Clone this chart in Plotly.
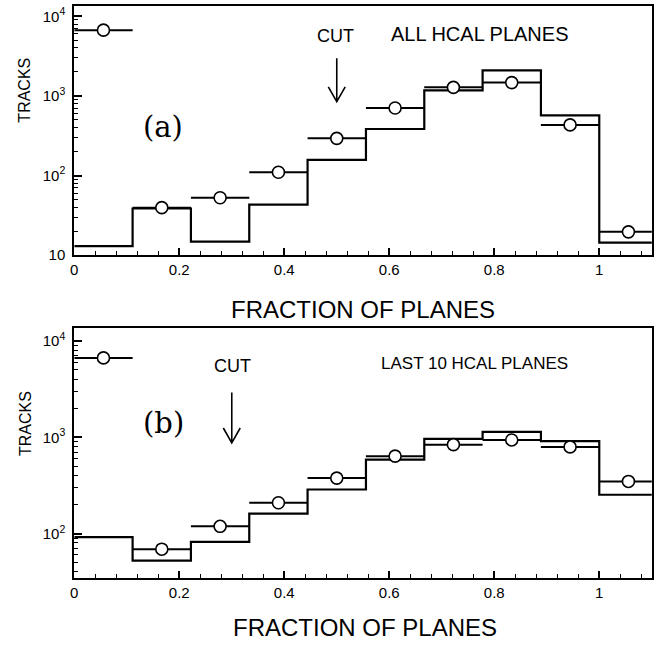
import plotly.graph_objects as go

# ---------------- data ----------------
BIN_EDGES = [0.0, 0.1111, 0.2222, 0.3333, 0.4444, 0.5556, 0.6667, 0.7778, 0.8889, 1.0, 1.1111]
BIN_CENTERS = [0.0556, 0.1667, 0.2778, 0.3889, 0.5, 0.6111, 0.7222, 0.8333, 0.9444, 1.0556]
HALF_WIDTH = 0.0556

hist_a = [13, 38.5, 14.8, 43, 157, 384, 1170, 2090, 570, 14.4]
points_a = [6700, 39.5, 52.6, 110, 293, 705, 1280, 1470, 432, 19.6]

hist_b = [92, 52.4, 82, 161, 287, 586, 960, 1140, 910, 253]
points_b = [6670, 68.9, 119, 209, 377, 637, 838, 938, 794, 348]

CUT_A = 0.5
CUT_B = 0.3

X_TICKS = [0, 0.2, 0.4, 0.6, 0.8, 1.0]
X_TICKTEXT = ["0", "0.2", "0.4", "0.6", "0.8", "1"]
Y_TICKS_A = [10, 100, 1000, 10000]
Y_TICKTEXT_A = ["10", "10<sup>2</sup>", "10<sup>3</sup>", "10<sup>4</sup>"]
Y_TICKS_B = [100, 1000, 10000]
Y_TICKTEXT_B = ["10<sup>2</sup>", "10<sup>3</sup>", "10<sup>4</sup>"]

# ---------------- layout helpers ----------------
W, H = 661, 651
def px(x):
    return x / W
def py(y):
    return 1 - y / H

SANS = "Liberation Sans, Arial, sans-serif"
SERIF = "DejaVu Serif, serif"

minor_log = [m * 10 ** k for k in range(1, 4) for m in range(2, 10)]

fig = go.Figure()

def add_panel(hist, pts, xa, ya):
    fig.add_trace(go.Scatter(
        x=BIN_EDGES, y=hist + [hist[-1]], mode="lines", line_shape="hv",
        line=dict(color="black", width=2.2), xaxis=xa, yaxis=ya,
        showlegend=False, hoverinfo="skip", cliponaxis=True))
    fig.add_trace(go.Scatter(
        x=BIN_CENTERS, y=pts, mode="markers",
        marker=dict(symbol="circle", size=12, color="white",
                    line=dict(color="black", width=1.6)),
        error_x=dict(type="constant", value=HALF_WIDTH, width=0,
                     thickness=2, color="black"),
        xaxis=xa, yaxis=ya, showlegend=False))

add_panel(hist_a, points_a, "x", "y")
add_panel(hist_b, points_b, "x2", "y2")

xdom = [px(70.7), px(651.7)]
ydom_a = [py(257.7), py(5)]
ydom_b = [py(585), py(332)]

xaxis_common = dict(
    range=[0, 1.1], domain=xdom, showgrid=False, zeroline=False,
    showline=True, linecolor="black", linewidth=2, mirror=True,
    ticks="inside", ticklen=7, tickwidth=1.5, tickcolor="black",
    tickmode="array", tickvals=X_TICKS, ticktext=X_TICKTEXT,
    tickfont=dict(family=SANS, size=15, color="black"),
    minor=dict(tickmode="linear", tick0=0, dtick=0.04, ticks="inside",
               ticklen=4, tickwidth=1.2, tickcolor="black"),
)
yaxis_common = dict(
    type="log", showgrid=False, zeroline=False,
    showline=True, linecolor="black", linewidth=2, mirror=True,
    ticks="inside", ticklen=8, tickwidth=1.5, tickcolor="black",
    tickfont=dict(family=SANS, size=15, color="black"),
    ticklabelstandoff=4,
    minor=dict(tickmode="array", tickvals=minor_log, ticks="inside",
               ticklen=4, tickwidth=1.2, tickcolor="black"),
)

fig.update_layout(
    width=W, height=H,
    margin=dict(l=0, r=0, t=0, b=0),
    paper_bgcolor="white", plot_bgcolor="white",
    xaxis=dict(**xaxis_common, anchor="y"),
    yaxis=dict(**yaxis_common, domain=ydom_a, range=[1, 4.13], anchor="x",
               tickvals=Y_TICKS_A, ticktext=Y_TICKTEXT_A, tickmode="array"),
    xaxis2=dict(**xaxis_common, anchor="y2"),
    yaxis2=dict(**yaxis_common, domain=ydom_b, range=[1.54, 4.13], anchor="x2",
                tickvals=Y_TICKS_B, ticktext=Y_TICKTEXT_B, tickmode="array"),
)

def txt(text, x, y, size, family=SANS, angle=0):
    fig.add_annotation(text=text, x=px(x), y=py(y), xref="paper", yref="paper",
                       showarrow=False, xanchor="center", yanchor="middle",
                       textangle=angle,
                       font=dict(family=family, size=size, color="black"))

# axis titles
txt("FRACTION OF PLANES", 361, 313, 24)
txt("FRACTION OF PLANES", 363, 635, 24)
txt("TRACKS", 21, 90, 16, angle=-90)
txt("TRACKS", 21, 428, 16, angle=-90)

# panel labels & texts
txt("(a)", 160, 128, 29, family=SERIF)
txt("(b)", 160, 428, 29, family=SERIF)
txt("CUT", 334, 35, 18)
txt("ALL HCAL PLANES", 479, 33, 20)
txt("CUT", 230, 370, 18)
txt("LAST 10 HCAL PLANES", 473, 368, 17)

# cut arrows (drawn as open V arrows)
def arrow(xval, xref, y_top, y_tip):
    dx = 8.5 / 528.5
    yt, yp, ya = py(y_top), py(y_tip), py(y_tip - 15)
    path = (f"M {xval},{yt} L {xval},{yp} "
            f"M {xval - dx},{ya} L {xval},{yp} L {xval + dx},{ya}")
    fig.add_shape(type="path", path=path, xref=xref, yref="paper",
                  line=dict(color="black", width=1.6))

arrow(CUT_A, "x", 58, 102)
arrow(CUT_B, "x2", 397, 448)

fig.write_html("out.html")
